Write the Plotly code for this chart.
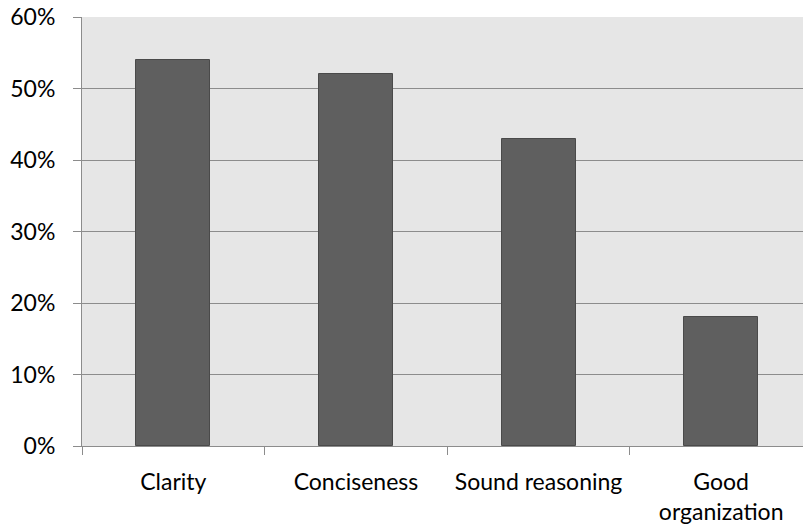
import plotly.graph_objects as go

categories = ["Clarity", "Conciseness", "Sound reasoning", "Good<br>organization"]
values = [54, 52, 43, 18]
y_ticks = [0, 10, 20, 30, 40, 50, 60]
y_tick_labels = [f"{v}%" for v in y_ticks]

fig = go.Figure(
    go.Bar(
        x=categories,
        y=values,
        width=0.405,
        marker=dict(color="#5f5f5f", line=dict(color="#4a4a4a", width=1)),
    )
)

font = dict(family="Lato, Calibri, sans-serif", size=23, color="#000000")

fig.update_layout(
    width=803,
    height=529,
    margin=dict(l=82, r=0, t=17, b=83),
    paper_bgcolor="#ffffff",
    plot_bgcolor="#e6e6e6",
    showlegend=False,
    font=font,
    bargap=0,
)

fig.update_xaxes(
    type="category",
    range=[-0.5, 3.448],
    tickson="boundaries",
    ticks="outside",
    ticklen=8,
    tickcolor="#8c8c8c",
    tickwidth=1,
    showline=True,
    linecolor="#8c8c8c",
    linewidth=1,
    showgrid=False,
    zeroline=False,
    ticklabelstandoff=15,
)

fig.update_yaxes(
    range=[0, 60],
    tickmode="array",
    tickvals=y_ticks,
    ticktext=y_tick_labels,
    ticks="outside",
    ticklen=8,
    tickcolor="#8c8c8c",
    showline=True,
    linecolor="#8c8c8c",
    linewidth=1,
    showgrid=True,
    gridcolor="#8c8c8c",
    gridwidth=1,
    zeroline=False,
    ticklabelstandoff=13,
)

fig.write_html("out.html")
